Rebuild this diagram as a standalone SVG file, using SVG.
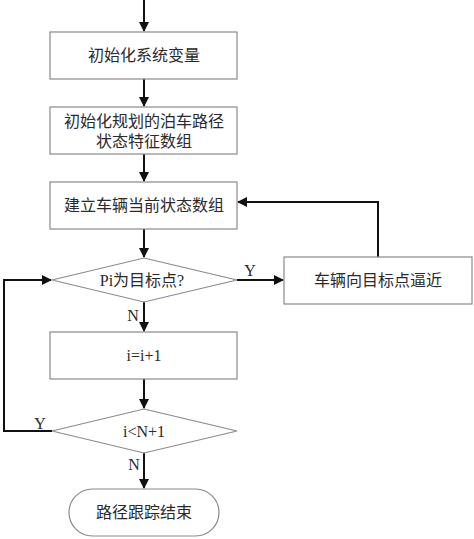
<svg xmlns="http://www.w3.org/2000/svg" width="474" height="539" viewBox="0 0 474 539">
<defs>
<marker id="ah" markerWidth="10" markerHeight="10" refX="9" refY="5" orient="auto" markerUnits="userSpaceOnUse">
<path d="M0,0 L10,5 L0,10 Z" fill="#111"/>
</marker>
<style>
.box{fill:#fff;stroke:#8a8a8a;stroke-width:1.2}
.t{font-family:"Liberation Serif","Noto Sans CJK SC",serif;font-size:16px;fill:#2a2a2a;text-anchor:middle}
.lb{font-family:"Liberation Serif",serif;font-size:16px;fill:#2a2a2a;text-anchor:middle}
.c{fill:none;stroke:#111;stroke-width:2}
</style>
</defs>
<rect width="474" height="539" fill="#fff"/>
<g id="connectors">
<line class="c" x1="144" y1="0" x2="144" y2="31" marker-end="url(#ah)"/>
<line class="c" x1="144" y1="79" x2="144" y2="106" marker-end="url(#ah)"/>
<line class="c" x1="144" y1="154" x2="144" y2="181" marker-end="url(#ah)"/>
<line class="c" x1="144" y1="229" x2="144" y2="257" marker-end="url(#ah)"/>
<line class="c" x1="237" y1="280" x2="283" y2="280" marker-end="url(#ah)"/>
<polyline class="c" points="378,257 378,202 238,202" marker-end="url(#ah)"/>
<line class="c" x1="144" y1="302" x2="144" y2="331" marker-end="url(#ah)"/>
<line class="c" x1="144" y1="379" x2="144" y2="408" marker-end="url(#ah)"/>
<polyline class="c" points="52,431 4,431 4,280 51,280" marker-end="url(#ah)"/>
<line class="c" x1="144" y1="453" x2="144" y2="488" marker-end="url(#ah)"/>
<text class="lb" x="250" y="276">Y</text>
<text class="lb" x="133" y="321">N</text>
<text class="lb" x="40" y="429">Y</text>
<text class="lb" x="134" y="470">N</text>
</g>
<g id="n1"><rect class="box" x="50" y="32" width="187" height="47"/><text class="t" x="144" y="61">初始化系统变量</text></g>
<g id="n2"><rect class="box" x="50" y="107" width="187" height="47"/><text class="t" x="144" y="127">初始化规划的泊车路径</text><text class="t" x="144" y="147">状态特征数组</text></g>
<g id="n3"><rect class="box" x="50" y="182" width="187" height="47"/><text class="t" x="144" y="211">建立车辆当前状态数组</text></g>
<g id="d1"><polygon class="box" points="144,258 237,280 144,302 52,280"/><text class="t" x="142" y="286">Pi为目标点?</text></g>
<g id="n4"><rect class="box" x="284" y="257" width="188" height="47"/><text class="t" x="378" y="286">车辆向目标点逼近</text></g>
<g id="n5"><rect class="box" x="50" y="332" width="187" height="47"/><text class="t" x="144" y="361">i=i+1</text></g>
<g id="d2"><polygon class="box" points="144,409 237,431 144,453 52,431"/><text class="t" x="144" y="437">i&lt;N+1</text></g>
<g id="end"><rect class="box" x="69" y="489" width="150" height="47" rx="23.5"/><text class="t" x="144" y="518">路径跟踪结束</text></g>
</svg>
